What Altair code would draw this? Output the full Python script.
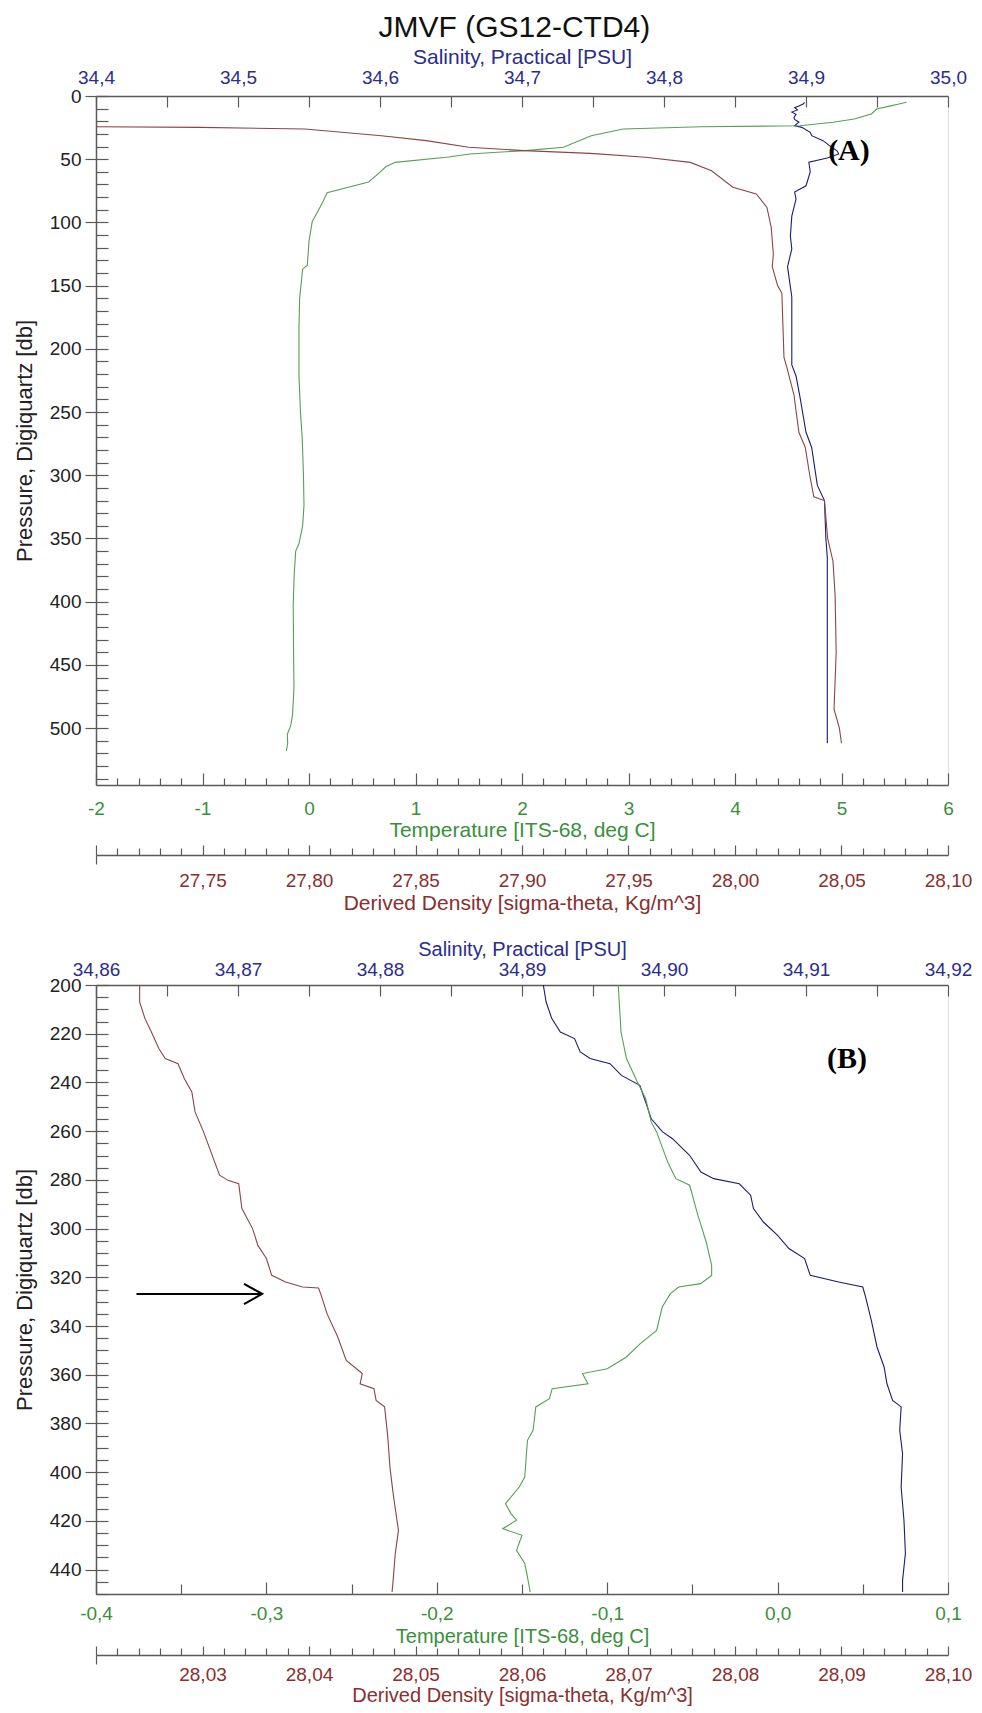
import altair as alt
import pandas as pd

FONT = "Liberation Sans"
NAVY = "#1d1d6e"
NAVY_T = "#2c2c8c"
GREEN = "#55a055"
GREEN_T = "#3a8f3a"
BROWN = "#8b4545"
BROWN_T = "#8b2e2e"
AX = "#5a5a5a"
COMMA = "replace(replace(datum.label, '.', ','), '\u2212', '-')"

# ---------------- Panel A (0-545 db) ----------------
A_sal_p = [5.0, 6.3, 8.0, 9.2, 11.0, 12.7, 14.5, 16.9, 18.5, 20.7, 23.5, 24.8, 28.7, 31.4, 35.3, 39.6,
           43.5, 45.9, 49.0, 52.4, 60.0, 71.0, 76.0, 81.5, 95.0, 111.0, 121.0, 135.0, 159.0, 212.7,
           221.5, 239.5, 266.0, 278.0, 308.0, 320.0, 350.0, 365.0, 420.0, 470.0, 512.0]
A_sal = [34.899, 34.898, 34.895, 34.892, 34.894, 34.890, 34.893, 34.8915, 34.892, 34.895, 34.892,
         34.897, 34.903, 34.904, 34.912, 34.917, 34.922, 34.923, 34.915, 34.902, 34.903, 34.900,
         34.892, 34.893, 34.890, 34.889, 34.890, 34.887, 34.890, 34.890, 34.893, 34.896, 34.900,
         34.904, 34.908, 34.913, 34.914, 34.915, 34.915, 34.915, 34.915]

A_tmp_p = [5.0, 6.3, 8.0, 10.3, 14.2, 18.2, 20.8, 23.5, 24.3, 26.1, 31.4, 40.6, 43.2, 45.9, 48.3,
           52.5, 56.0, 60.0, 68.0, 76.5, 84.6, 99.4, 115.0, 133.8, 137.0, 160.0, 183.0, 222.0, 250.0,
           272.0, 300.0, 324.0, 340.0, 354.0, 360.0, 380.0, 403.0, 440.0, 468.0, 490.0, 498.0, 505.0,
           512.0, 518.0]
A_tmp = [5.61, 5.54, 5.45, 5.33, 5.28, 5.12, 4.92, 4.61, 3.68, 2.95, 2.65, 2.39, 2.03, 1.51, 1.31,
         0.81, 0.72, 0.67, 0.56, 0.17, 0.125, 0.03, 0.00, -0.016, -0.060, -0.088, -0.094, -0.094,
         -0.080, -0.063, -0.052, -0.047, -0.060, -0.094, -0.125, -0.140, -0.148, -0.145, -0.141,
         -0.155, -0.172, -0.204, -0.200, -0.213]

A_den_p = [23.5, 24.3, 24.8, 26.1, 31.4, 35.3, 40.6, 43.2, 45.4, 48.5, 52.5, 59.1, 72.2, 77.5, 88.1,
           103.9, 125.0, 135.0, 150.0, 156.0, 206.8, 215.7, 236.5, 266.0, 278.0, 299.0, 317.0, 320.0,
           350.0, 368.0, 395.0, 440.0, 485.0, 500.0, 512.0]
A_den = [27.60, 27.700, 27.749, 27.798, 27.834, 27.855, 27.875, 27.901, 27.932, 27.958, 27.979,
         27.989, 27.999, 28.010, 28.015, 28.017, 28.018, 28.0175, 28.020, 28.022, 28.023, 28.0245,
         28.0277, 28.030, 28.033, 28.035, 28.037, 28.042, 28.0435, 28.046, 28.047, 28.0475, 28.0465,
         28.049, 28.050]

# ---------------- Panel B (200-450 db) ----------------
B_sal_p = [200.0, 207.0, 213.8, 219.3, 222.0, 227.5, 230.2, 232.3, 237.1, 241.2, 248.0, 254.9, 260.3,
           263.1, 269.9, 276.8, 279.5, 281.6, 286.3, 291.8, 297.3, 302.8, 308.2, 312.3, 319.2, 321.9,
           324.0, 328.1, 337.7, 348.6, 356.8, 363.7, 370.5, 373.2, 382.8, 392.4, 406.1, 419.8, 433.4,
           444.4, 449.2]
B_sal = [34.8915, 34.8917, 34.8921, 34.8927, 34.8937, 34.8941, 34.8948, 34.8962, 34.8970, 34.8983,
         34.8987, 34.8991, 34.8999, 34.9006, 34.9018, 34.9026, 34.9035, 34.9053, 34.9061, 34.9063,
         34.9070, 34.9080, 34.9088, 34.9099, 34.9103, 34.9123, 34.9140, 34.9142, 34.9146, 34.9150,
         34.9155, 34.9157, 34.9161, 34.9167, 34.9166, 34.9168, 34.9167, 34.9169, 34.9170, 34.9168,
         34.9168]

B_tmp_p = [200.0, 219.3, 230.2, 239.8, 246.7, 256.2, 260.3, 272.7, 279.5, 282.2, 294.5, 305.5, 315.1,
           319.2, 322.6, 324.0, 326.7, 332.2, 341.8, 347.2, 352.7, 357.5, 359.5, 363.7, 365.7, 369.8,
           373.2, 382.8, 386.9, 402.0, 406.1, 412.9, 417.0, 419.7, 423.2, 425.9, 432.1, 437.5, 443.0,
           449.2]
B_tmp = [-0.0935, -0.0919, -0.0887, -0.0823, -0.0774, -0.0742, -0.0710, -0.0645, -0.0597, -0.0516,
         -0.0468, -0.0419, -0.0387, -0.0387, -0.0452, -0.0580, -0.0629, -0.0677, -0.0710, -0.0806,
         -0.0887, -0.1000, -0.1145, -0.1113, -0.1323, -0.1339, -0.1419, -0.1435, -0.1468, -0.1484,
         -0.1516, -0.1597, -0.1565, -0.1532, -0.1613, -0.1500, -0.1532, -0.1484, -0.1468, -0.1452]

B_den_p = [200.0, 207.0, 213.8, 219.3, 226.1, 230.2, 232.3, 238.5, 243.9, 252.1, 260.3, 268.6, 278.1,
           280.2, 281.6, 291.8, 300.0, 306.9, 312.3, 319.2, 321.9, 324.0, 324.4, 328.1, 335.0, 344.5,
           354.1, 359.5, 363.7, 365.7, 370.5, 373.2, 385.6, 397.9, 408.8, 423.9, 433.4, 444.4, 449.2]
B_den = [28.0241, 28.0241, 28.0246, 28.0252, 28.0259, 28.0265, 28.0277, 28.0283, 28.0290, 28.0293,
         28.0301, 28.0308, 28.0316, 28.0324, 28.0334, 28.0337, 28.0347, 28.0352, 28.0360, 28.0365,
         28.0378, 28.0394, 28.0409, 28.0412, 28.0417, 28.0427, 28.0435, 28.0450, 28.0448, 28.0461,
         28.0463, 28.0471, 28.0474, 28.0476, 28.0479, 28.0484, 28.0481, 28.0479, 28.0478]

# arrow annotation in panel B (density units, pressure)
ARROW_shaft_d = [28.0238, 28.0356]
ARROW_shaft_p = 326.8
ARROW_head_d = [28.0339, 28.0356, 28.0339]
ARROW_head_p = [322.7, 326.8, 331.0]

# tick labels
A_sal_labels = [34.4, 34.5, 34.6, 34.7, 34.8, 34.9, 35.0]
A_tmp_labels = [-2, -1, 0, 1, 2, 3, 4, 5, 6]
A_den_labels = [27.75, 27.80, 27.85, 27.90, 27.95, 28.00, 28.05, 28.10]
A_p_labels = [0, 50, 100, 150, 200, 250, 300, 350, 400, 450, 500]
B_sal_labels = [34.86, 34.87, 34.88, 34.89, 34.90, 34.91, 34.92]
B_tmp_labels = [-0.4, -0.3, -0.2, -0.1, 0.0, 0.1]
B_den_labels = [28.03, 28.04, 28.05, 28.06, 28.07, 28.08, 28.09, 28.10]
B_p_labels = [200, 220, 240, 260, 280, 300, 320, 340, 360, 380, 400, 420, 440]


def steps(a, b, s):
    n = int(round((b - a) / s))
    return [round(a + s * k, 5) for k in range(n + 1)]


def df(p, v):
    return pd.DataFrame({"p": p, "v": v, "i": list(range(len(p)))})


W = 852
LBL = 19
PTTL = 22

PA = dict(H=689, p_dom=[0, 545], s_dom=[34.4, 35.0], t_dom=[-2, 6], d_dom=[27.70, 28.10],
          s_labels=A_sal_labels, s_fmt=".1f", s_inner=steps(34.4, 35.0, 0.05),
          t_labels=A_tmp_labels, t_fmt=".0f", t_inner=steps(-2, 6, 0.2),
          t_test="abs(datum.value - round(datum.value)) < 0.001", t_maj=12, t_min=7,
          d_labels=A_den_labels, d_inner=steps(27.70, 28.10, 0.01),
          d_test="abs(datum.value*20 - round(datum.value*20)) < 0.001", d_maj=10, d_min=7,
          p_labels=A_p_labels, p_inner=steps(0, 540, 10),
          s_lpad=9, s_ty=-39, t_lpad=14, t_ty=45, d_off=70, d_lpad=16, d_ty=48, ttl=21,
          tag="(A)", tag_x=5.07, tag_p=43.8)

PB = dict(H=609, p_dom=[200, 450], s_dom=[34.86, 34.92], t_dom=[-0.4, 0.1], d_dom=[28.02, 28.10],
          s_labels=B_sal_labels, s_fmt=".2f", s_inner=steps(34.86, 34.92, 0.005),
          t_labels=B_tmp_labels, t_fmt=".1f", t_inner=steps(-0.4, 0.1, 0.05),
          t_test="abs(datum.value*10 - round(datum.value*10)) < 0.001", t_maj=12, t_min=10,
          d_labels=B_den_labels, d_inner=steps(28.02, 28.10, 0.002),
          d_test="abs(datum.value*100 - round(datum.value*100)) < 0.001", d_maj=9, d_min=7,
          p_labels=B_p_labels, p_inner=steps(200, 450, 5),
          s_lpad=6, s_ty=-36, t_lpad=10, t_ty=42, d_off=61, d_lpad=10, d_ty=40, ttl=20,
          tag="(B)", tag_x=0.0407, tag_p=230.5)


def panel(sal, tmp, den, P, arrow=False):
    H = P["H"]
    ps = alt.Scale(domain=P["p_dom"], reverse=True, nice=False, zero=False)
    ss = alt.Scale(domain=P["s_dom"], nice=False, zero=False)
    ts = alt.Scale(domain=P["t_dom"], nice=False, zero=False)
    ds = alt.Scale(domain=P["d_dom"], nice=False, zero=False)
    base = dict(grid=False, labelFont=FONT, titleFont=FONT, labelFlush=False, labelOverlap=False,
                titleFontWeight="normal", labelFontSize=LBL, titleFontSize=P["ttl"])
    tick = dict(labels=False, domain=False, title=None, grid=False, tickColor=AX, tickWidth=1.2)

    def corners(dom):
        return pd.DataFrame({"v": dom, "p": P["p_dom"]})

    sal_l = alt.Chart(sal).mark_line(color=NAVY, strokeWidth=1.1, clip=True).encode(
        x=alt.X("v:Q", scale=ss, axis=alt.Axis(
            orient="top", values=P["s_labels"], format=P["s_fmt"], labelExpr=COMMA, ticks=False,
            tickSize=0, domain=True, domainColor=AX, domainWidth=1.5, labelColor=NAVY_T,
            labelPadding=P["s_lpad"], title="Salinity, Practical [PSU]", titleColor=NAVY_T,
            titleY=P["s_ty"], titleBaseline="middle", **base)),
        y=alt.Y("p:Q", scale=ps, axis=alt.Axis(
            orient="left", values=P["p_labels"], tickSize=11, tickColor=AX, tickWidth=1.2,
            domain=True, domainColor=AX, domainWidth=1.5, labelColor="#222222", labelPadding=4,
            title="Pressure, Digiquartz [db]", titleColor="#222222", titleX=-72, titleY=H / 2,
            titleBaseline="middle", grid=False, labelFont=FONT, titleFont=FONT, labelFlush=False,
            labelOverlap=False, titleFontWeight="normal", labelFontSize=LBL, titleFontSize=PTTL)),
        order="i:Q")

    tmp_l = alt.Chart(tmp).mark_line(color=GREEN, strokeWidth=1.1, clip=True).encode(
        x=alt.X("v:Q", scale=ts, axis=alt.Axis(
            orient="bottom", values=P["t_labels"], format=P["t_fmt"], labelExpr=COMMA, ticks=False,
            tickSize=0, domain=True, domainColor=AX, domainWidth=1.5, labelColor=GREEN_T,
            labelPadding=P["t_lpad"], title="Temperature [ITS-68, deg C]", titleColor=GREEN_T,
            titleY=P["t_ty"], titleBaseline="middle", **base)),
        y=alt.Y("p:Q", scale=ps, axis=None),
        order="i:Q")

    den_l = alt.Chart(den).mark_line(color=BROWN, strokeWidth=1.1, clip=True).encode(
        x=alt.X("v:Q", scale=ds, axis=alt.Axis(
            orient="bottom", offset=P["d_off"], values=P["d_labels"], format=".2f", labelExpr=COMMA,
            ticks=False, tickSize=0, domain=True, domainColor=AX, domainWidth=1.5,
            labelColor=BROWN_T, labelPadding=P["d_lpad"],
            title="Derived Density [sigma-theta, Kg/m^3]", titleColor=BROWN_T,
            titleY=P["d_ty"], titleBaseline="middle", **base)),
        y=alt.Y("p:Q", scale=ps, axis=None),
        order="i:Q")

    t_ticks = alt.Chart(corners(P["t_dom"])).mark_point(opacity=0).encode(
        x=alt.X("v:Q", scale=ts, axis=alt.Axis(
            orient="top", offset=-H, values=P["t_inner"],
            tickSize={"condition": {"test": P["t_test"], "value": P["t_maj"]}, "value": P["t_min"]},
            **tick)),
        y=alt.Y("p:Q", scale=ps, axis=alt.Axis(
            orient="right", offset=-W, values=P["p_inner"], tickSize=12, **tick)))

    s_ticks = alt.Chart(corners(P["s_dom"])).mark_point(opacity=0).encode(
        x=alt.X("v:Q", scale=ss, axis=alt.Axis(
            orient="bottom", offset=-H, values=P["s_inner"], tickSize=11, **tick)),
        y=alt.Y("p:Q", scale=ps, axis=None))

    d_ticks = alt.Chart(corners(P["d_dom"])).mark_point(opacity=0).encode(
        x=alt.X("v:Q", scale=ds, axis=alt.Axis(
            orient="top", offset=-(H + P["d_off"]), values=P["d_inner"],
            tickSize={"condition": {"test": P["d_test"], "value": P["d_maj"]}, "value": P["d_min"]},
            **tick)),
        y=alt.Y("p:Q", scale=ps, axis=None))

    d_end = alt.Chart(corners(P["d_dom"])).mark_point(opacity=0).encode(
        x=alt.X("v:Q", scale=ds, axis=alt.Axis(
            orient="bottom", offset=P["d_off"], values=[P["d_dom"][0]], tickSize=9, **tick)),
        y=alt.Y("p:Q", scale=ps, axis=None))

    tag = alt.Chart(pd.DataFrame({"t": [P["tag"]], "x": [P["tag_x"]], "p": [P["tag_p"]]})).mark_text(
        font="Liberation Serif", fontWeight="bold", fontSize=30, color="black").encode(
        x=alt.X("x:Q", scale=ts, axis=None),
        y=alt.Y("p:Q", scale=ps, axis=None),
        text="t:N")

    layers = [sal_l, tmp_l, den_l, t_ticks, s_ticks, d_ticks, d_end, tag]
    if arrow:
        shaft = alt.Chart(pd.DataFrame({"x1": [ARROW_shaft_d[0]], "x2": [ARROW_shaft_d[1]],
                                        "p": [ARROW_shaft_p]})).mark_rule(
            color="black", strokeWidth=2).encode(
            x=alt.X("x1:Q", scale=ds, axis=None),
            x2="x2:Q",
            y=alt.Y("p:Q", scale=ps, axis=None))
        head = alt.Chart(df(ARROW_head_p, ARROW_head_d)).mark_line(
            color="black", strokeWidth=2).encode(
            x=alt.X("v:Q", scale=ds, axis=None),
            y=alt.Y("p:Q", scale=ps, axis=None),
            order="i:Q")
        layers += [shaft, head]

    return alt.layer(*layers).resolve_scale(x="independent", y="independent").resolve_axis(
        x="independent", y="independent").properties(width=W, height=H)


A = panel(df(A_sal_p, A_sal), df(A_tmp_p, A_tmp), df(A_den_p, A_den), PA)
B = panel(df(B_sal_p, B_sal), df(B_tmp_p, B_tmp), df(B_den_p, B_den), PB, arrow=True)

chart = alt.vconcat(A, B, spacing=200, bounds="flush").properties(
    title=alt.TitleParams("JMVF (GS12-CTD4)", font=FONT, fontSize=30, fontWeight="normal",
                          color="#111111", anchor="middle", offset=3, dx=22),
    padding={"left": 12, "top": 12, "right": 5, "bottom": 5},
).configure_view(stroke="#6a6a6a", strokeWidth=1.3).configure(font=FONT, background="white")

chart.save("out.html", embed_options={"renderer": "svg", "actions": False})
